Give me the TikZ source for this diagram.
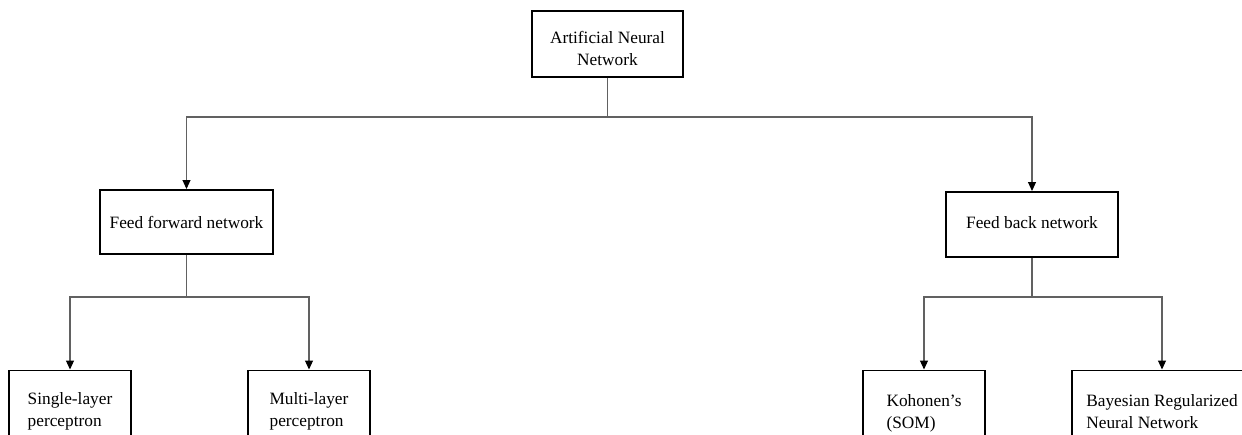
\documentclass[tikz,border=0pt]{standalone}
\usepackage{fontspec}
\setmainfont{Liberation Serif}
\usetikzlibrary{arrows.meta}

% two-line labels, first baseline is the reference point
\newcommand{\twoline}[3][l]{\begin{tabular}[t]{@{}#1@{}}#2\\#3\end{tabular}}

\begin{document}
\begin{tikzpicture}[x=1pt,y=1pt,
  box/.style={draw=black, line width=1.6pt, inner sep=0pt,
    font=\fontsize{17.3}{22}\selectfont, anchor=north},
  conn/.style={draw=black!62, line width=1.1pt},
  arr/.style={conn, -{Triangle[width=8pt,length=9pt,color=black]}}
]
\useasboundingbox (0,0) rectangle (1242,-434);
\clip (0,0) rectangle (1242,-434);

% root
\node[box, minimum width=151pt, text height=33pt, text depth=33pt] (ann) at (607.5,-10)
  {\twoline[c]{Artificial Neural}{Network}};

% second level
\node[box, minimum width=173pt, text height=39pt, text depth=25pt] (ff) at (186.5,-189)
  {Feed forward network};
\node[box, minimum width=172pt, text height=37pt, text depth=28pt] (fb) at (1032,-191)
  {Feed back network};

% leaves (run past the lower edge)
\node[box, minimum width=122pt, text height=34.5pt, text depth=90pt] (sl) at (70,-369.5)
  {\twoline{Single-layer}{perceptron}};
\node[box, minimum width=122pt, text height=34.5pt, text depth=90pt] (ml) at (309,-369.5)
  {\twoline{Multi-layer}{perceptron}};
\node[box, minimum width=122pt, text height=36pt, text depth=90pt] (koh) at (924,-369.5)
  {\twoline{Kohonen’s}{(SOM)}};
\node[box, minimum width=180pt, text height=36pt, text depth=90pt] (bay) at (1162,-369.5)
  {\twoline{Bayesian Regularized}{Neural Network}};

% junction points of the tree
\coordinate (j0) at (607.5,-117);
\coordinate (j1) at (186.5,-297);
\coordinate (j2) at (1032,-297);

% connectors
\draw[conn] (ann) -- (j0);
\draw[arr] (j0) -| (ff);
\draw[arr] (j0) -| (fb);

\draw[conn] (ff) -- (j1);
\draw[arr] (j1) -| (sl);
\draw[arr] (j1) -| (ml);

\draw[conn] (fb) -- (j2);
\draw[arr] (j2) -| (koh);
\draw[arr] (j2) -| (bay);
\end{tikzpicture}
\end{document}
